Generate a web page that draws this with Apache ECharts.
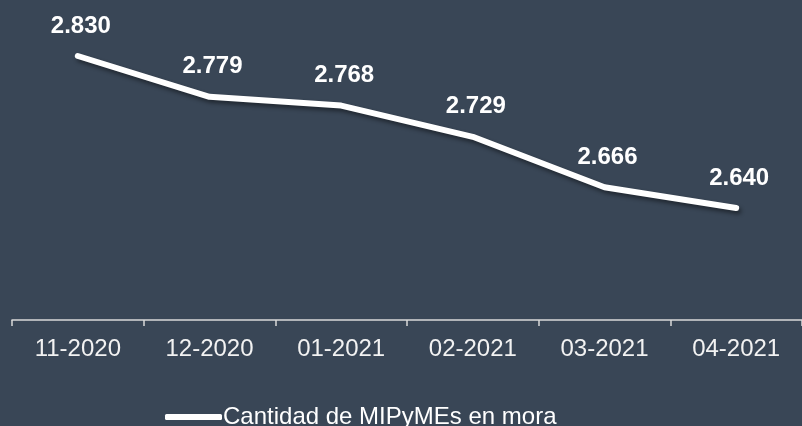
<!DOCTYPE html>
<html lang="es">
<head>
<meta charset="UTF-8">
<title>MIPyMEs en mora</title>
<script src="https://cdn.jsdelivr.net/npm/echarts@6/dist/echarts.min.js"></script>
<style>
  html, body { margin: 0; padding: 0; background: #394656; }
  #chart { width: 802px; height: 426px; }
</style>
</head>
<body>
<div id="chart"></div>
<script>
// datos del gráfico
const categories = ['11-2020', '12-2020', '01-2021', '02-2021', '03-2021', '04-2021']
const values = [2830, 2779, 2768, 2729, 2666, 2640]
const seriesName = 'Cantidad de MIPyMEs en mora'

// formato con punto de miles
const fmt = v => {
  const s = String(v)
  return s.length > 3 ? s.slice(0, s.length - 3) + '.' + s.slice(-3) : s
}

const chart = echarts.init(document.getElementById('chart'))
chart.setOption({
  backgroundColor: '#394656',
  animation: false,
  textStyle: { fontFamily: 'Liberation Sans, Arial, sans-serif' },
  grid: { left: 12, top: 0, width: 794, height: 320, containLabel: false },
  legend: {
    top: 400,
    left: 160,
    icon: 'roundRect',
    itemWidth: 57,
    itemHeight: 6,
    itemGap: 4,
    itemStyle: { color: '#ffffff' },
    textStyle: { color: '#ffffff', fontSize: 24, padding: [0, 0, 0, -4] },
    data: [seriesName]
  },
  xAxis: {
    type: 'category',
    data: categories,
    boundaryGap: true,
    axisLine: { lineStyle: { color: '#d9d9d9', width: 1.5 } },
    axisTick: { show: true, length: 6, lineStyle: { color: '#d9d9d9', width: 1.5 } },
    axisLabel: { color: '#f2f2f2', fontSize: 24, margin: 17 }
  },
  yAxis: {
    type: 'value',
    min: 2500,
    max: 2900,
    show: false,
    splitLine: { show: false }
  },
  series: [{
    name: seriesName,
    type: 'line',
    data: values,
    symbol: 'circle',
    symbolSize: 0.1,
    showSymbol: true,
    lineStyle: {
      color: '#ffffff',
      width: 6,
      cap: 'round',
      shadowColor: 'rgba(0,0,0,0.45)',
      shadowBlur: 4,
      shadowOffsetX: 2,
      shadowOffsetY: 3
    },
    itemStyle: { color: '#ffffff' },
    label: {
      show: true,
      position: 'top',
      distance: 18,
      offset: [3, 0],
      color: '#ffffff',
      fontSize: 24,
      fontWeight: 'bold',
      formatter: p => fmt(p.value)
    }
  }]
})
</script>
</body>
</html>
